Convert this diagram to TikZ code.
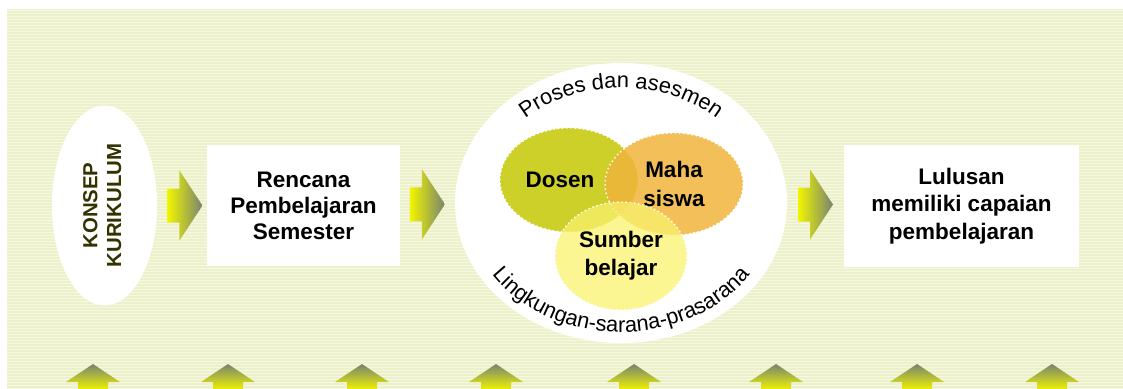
\documentclass[tikz,border=0pt]{standalone}
\usepackage{fontspec}
\setmainfont{Liberation Sans}
\usepackage{graphicx}
\usepackage{xcolor}
\usepackage{tikz}
\usetikzlibrary{positioning}
\usetikzlibrary{shapes}
\usetikzlibrary{calc}
\usetikzlibrary{decorations.text}

\definecolor{bgbase}{RGB}{236,241,203}
\definecolor{bgline}{RGB}{246,248,224}
\definecolor{dosencol}{RGB}{204,208,40}
\definecolor{mahacol}{RGB}{240,180,60}
\definecolor{sumbercol}{RGB}{250,242,110}
\definecolor{arryellow}{RGB}{240,245,0}
\definecolor{arrgrey}{RGB}{120,132,112}
\definecolor{konsepcol}{RGB}{51,51,0}

\newcommand{\arcfont}{\fontsize{15.5}{18}\selectfont}

\begin{document}
\begin{tikzpicture}[x=0.025cm,y=0.025cm]
\tikzstyle{whitebox}=[fill=white, inner sep=0pt, align=center, font=\fontsize{16}{18.5}\selectfont\bfseries]
\tikzstyle{venn}=[ellipse, draw=white, dotted, line width=1pt, inner sep=0pt, align=center, text=black, text opacity=1, font=\fontsize{16}{20}\selectfont\bfseries]
\tikzstyle{rarrow}=[left color=arryellow, right color=arrgrey]
\tikzstyle{uarrow}=[bottom color=arryellow, top color=arrgrey]

\useasboundingbox (0,0) rectangle (1123,-388);
% striped background
\fill[bgbase] (7,-9) rectangle (1123,-388);
\foreach \y in {10,13,...,388}
	\draw[bgline, line width=0.7pt] (7,-\y) -- (1123,-\y);

\node[ellipse, fill=white, minimum width=2.625cm, minimum height=5cm, inner sep=0pt, text=konsepcol, font=\fontsize{14.5}{17}\selectfont\bfseries] (konsep) at (104.5,-205.5)
	{\rotatebox{90}{\begin{tabular}{@{}c@{}}KONSEP\\KURIKULUM\end{tabular}}};
\node[whitebox, minimum width=4.825cm, minimum height=3.025cm] (rps) at (303.5,-205.5) {Rencana\\Pembelajaran\\Semester};
\node[ellipse, fill=white, minimum width=8.3cm, minimum height=7cm, inner sep=0pt] (proses) at (621,-203) {};
\node[whitebox, minimum width=5.875cm, minimum height=3.05cm, font=\fontsize{16}{19.5}\selectfont\bfseries] (lulusan) at (961.5,-206) {Lulusan\\memiliki capaian\\pembelajaran};

% three circles
\node[venn, fill=dosencol, minimum width=3.45cm, minimum height=2.6cm] (dosen) at (569,-180) {Dosen\hspace*{0.45cm}};
\node[venn, fill=mahacol, fill opacity=0.85, minimum width=3.45cm, minimum height=2.55cm] (maha) at (674,-184) {Maha\\siswa};
\node[venn, fill=sumbercol, fill opacity=0.75, minimum width=3.3cm, minimum height=2.7cm] (sumber) at (621,-256) {Sumber\\belajar};

% texts round the circles
\path[decorate, decoration={text along path, text align=center, text={|\arcfont|Proses dan asesmen}}]
	(proses.center) ++(140:141 and 115) arc[start angle=140, end angle=40, x radius=141, y radius=115];
\path[decorate, decoration={text along path, text align=center, text={|\arcfont|Lingkungan-sarana-prasarana}}]
	(proses.center) ++(205:155 and 129) arc[start angle=205, end angle=335, x radius=155, y radius=129];

% arrows between the steps
\shade[rarrow] ($(konsep.east)!0.56!(rps.west)$) ++(-17.5,17) -- ++(12,0) -- ++(0,18) -- ++(23,-35) -- ++(-23,-35) -- ++(0,18) -- ++(-12,0) -- cycle;
\shade[rarrow] ($(rps.east)!0.5!(proses.west)$) ++(-17.5,17) -- ++(12,0) -- ++(0,18) -- ++(23,-35) -- ++(-23,-35) -- ++(0,18) -- ++(-12,0) -- cycle;
\shade[rarrow] ($(proses.east)!0.5!(lulusan.west)$) ++(-17.5,17) -- ++(12,0) -- ++(0,18) -- ++(23,-35) -- ++(-23,-35) -- ++(0,18) -- ++(-12,0) -- cycle;

% arrows at the bottom
\foreach \cx in {93,228,362,496,634,776,917,1052}
	\shade[uarrow] (\cx,-364) -- ++(27,-18) -- ++(-12,0) -- ++(0,-8) -- ++(-30,0) -- ++(0,8) -- ++(-12,0) -- cycle;
\end{tikzpicture}
\end{document}
